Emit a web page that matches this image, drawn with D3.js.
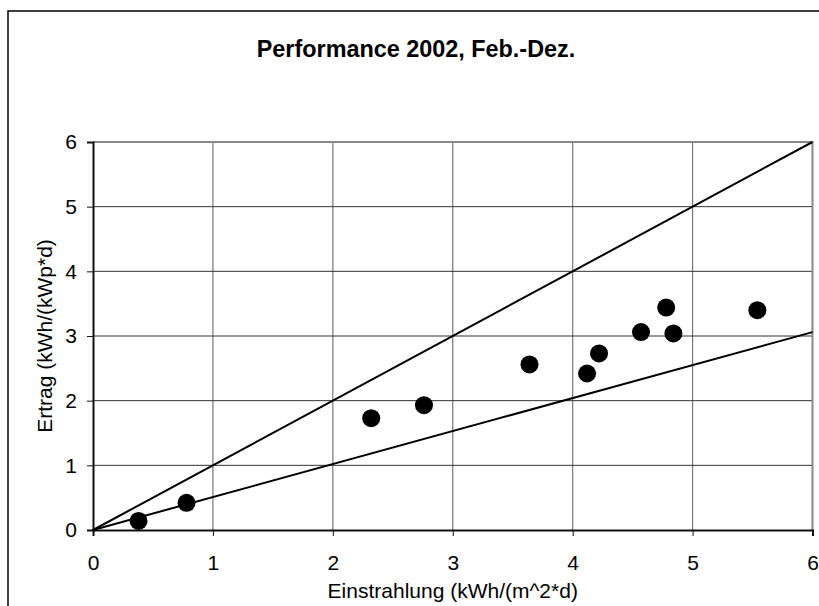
<!DOCTYPE html>
<html>
<head>
<meta charset="utf-8">
<script src="https://cdn.jsdelivr.net/npm/d3@7"></script>
<style>
  html, body { margin: 0; padding: 0; background: #fff; }
  svg { display: block; font-family: "Liberation Sans", Arial, sans-serif; }
</style>
</head>
<body>
<svg id="chart" width="819" height="606"></svg>
<script>
// Monthly values: irradiation (kWh/(m^2*d)) vs. specific yield (kWh/(kWp*d))
const irradiation = [0.38, 0.78, 2.32, 2.76, 3.64, 4.12, 4.22, 4.57, 4.78, 4.84, 5.54];
const yieldValues = [0.14, 0.42, 1.73, 1.93, 2.56, 2.42, 2.73, 3.06, 3.44, 3.04, 3.40];

// Reference lines through the origin
const refUpperX = [0, 6];
const refUpperY = [0, 6];
const refLowerX = [0, 6];
const refLowerY = [0, 3.06];

const xTicks = [0, 1, 2, 3, 4, 5, 6];
const yTicks = [0, 1, 2, 3, 4, 5, 6];

const titleText = "Performance 2002, Feb.-Dez.";
const xTitle = "Einstrahlung (kWh/(m^2*d)";
const yTitle = "Ertrag (kWh/(kWp*d)";

const svg = d3.select("#chart");

const x = d3.scaleLinear().domain([0, 6]).range([93, 812.5]);
const y = d3.scaleLinear().domain([0, 6]).range([530, 142]);

// Outer chart frame
svg.append("rect")
  .attr("x", 8).attr("y", 11)
  .attr("width", 840).attr("height", 640)
  .attr("fill", "#fff").attr("stroke", "#000").attr("stroke-width", 1.5);

// Title
svg.append("text")
  .attr("x", 416).attr("y", 57)
  .attr("text-anchor", "middle")
  .attr("font-weight", "bold")
  .attr("font-size", 23.4)
  .attr("fill", "#000")
  .text(titleText);

// Gridlines
svg.append("g").selectAll("line")
  .data(xTicks.filter(d => d > 0 && d < 6))
  .join("line")
  .attr("x1", d => x(d)).attr("x2", d => x(d))
  .attr("y1", y(0)).attr("y2", y(6))
  .attr("stroke", "#777").attr("stroke-width", 1.2);

svg.append("g").selectAll("line")
  .data(yTicks.filter(d => d > 0 && d < 6))
  .join("line")
  .attr("x1", x(0)).attr("x2", x(6))
  .attr("y1", d => y(d)).attr("y2", d => y(d))
  .attr("stroke", "#333").attr("stroke-width", 1);

// Plot border (top and right, grey)
svg.append("path")
  .attr("d", `M${x(0)},${y(6)}H${x(6)}V${y(0)}`)
  .attr("fill", "none").attr("stroke", "#888").attr("stroke-width", 2);

// Axes
const xAxis = d3.axisBottom(x).tickValues(xTicks).tickSize(6).tickPadding(19).tickFormat(d3.format("d"));
const yAxis = d3.axisLeft(y).tickValues(yTicks).tickSize(6).tickPadding(10).tickFormat(d3.format("d"));

const gx = svg.append("g").attr("transform", `translate(0,${y(0)})`).call(xAxis);
const gy = svg.append("g").attr("transform", `translate(${x(0)},0)`).call(yAxis);

[gx, gy].forEach(g => {
  g.select(".domain").attr("stroke", "#111").attr("stroke-width", 2);
  g.selectAll(".tick line").attr("stroke", "#111").attr("stroke-width", 1);
  g.selectAll(".tick text")
    .attr("fill", "#000")
    .attr("font-size", 21)
    .attr("font-family", "'Liberation Sans', Arial, sans-serif");
});
gx.selectAll(".tick text").attr("dy", "0.71em");

// Reference lines
const line = d3.line().x(d => x(d[0])).y(d => y(d[1]));
svg.append("path")
  .datum(refUpperX.map((v, i) => [v, refUpperY[i]]))
  .attr("d", line)
  .attr("fill", "none").attr("stroke", "#000").attr("stroke-width", 2);
svg.append("path")
  .datum(refLowerX.map((v, i) => [v, refLowerY[i]]))
  .attr("d", line)
  .attr("fill", "none").attr("stroke", "#000").attr("stroke-width", 2);

// Data points
svg.append("g").selectAll("circle")
  .data(irradiation.map((v, i) => [v, yieldValues[i]]))
  .join("circle")
  .attr("cx", d => x(d[0]))
  .attr("cy", d => y(d[1]))
  .attr("r", 9)
  .attr("fill", "#000");

// Axis titles
svg.append("text")
  .attr("x", (x(0) + x(6)) / 2).attr("y", 598)
  .attr("text-anchor", "middle")
  .attr("font-size", 21)
  .attr("fill", "#000")
  .text(xTitle);

svg.append("text")
  .attr("transform", "translate(52,336) rotate(-90)")
  .attr("text-anchor", "middle")
  .attr("font-size", 21)
  .attr("fill", "#000")
  .text(yTitle);
</script>
</body>
</html>
